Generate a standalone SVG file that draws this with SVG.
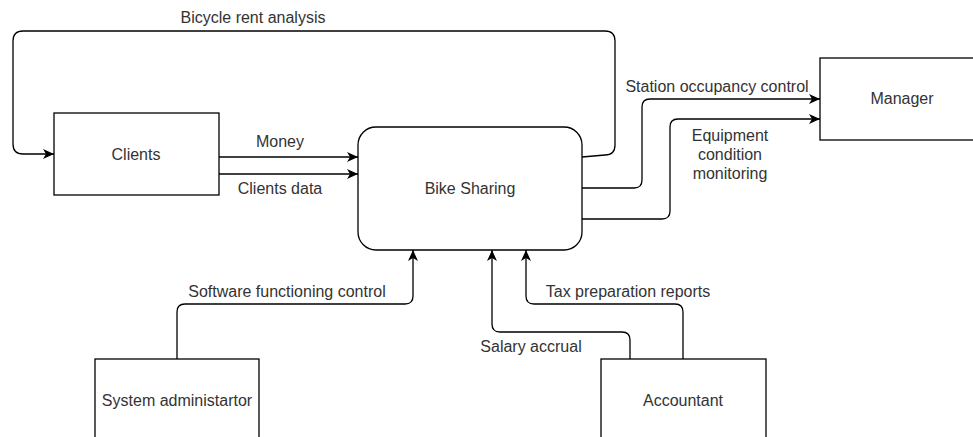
<svg xmlns="http://www.w3.org/2000/svg" width="973" height="437" viewBox="0 0 973 437">
<style>
.box{fill:#fff;stroke:#000;stroke-width:1.3}
.edge{fill:none;stroke:#000;stroke-width:1.3}
text{font-family:"Liberation Sans",Arial,Helvetica,sans-serif;font-size:16px;fill:#333;text-anchor:middle}
</style>
<defs>
<marker id="arr" markerUnits="userSpaceOnUse" markerWidth="12" markerHeight="10" refX="11" refY="5" orient="auto">
<path d="M0,0 L11,5 L0,10 L3,5 Z" fill="#000"/>
</marker>
</defs>
<rect width="973" height="437" fill="#fff"/>
<g id="connectors">
<path class="edge" marker-end="url(#arr)" d="M582,157 L605,155 Q615,155 615,145 L615,41 Q615,31 605,31 L23,31 Q13,31 13,41 L13,144 Q13,154 23,154 L54,154"/>
<path class="edge" marker-end="url(#arr)" d="M219,157 L358,157"/>
<path class="edge" marker-end="url(#arr)" d="M219,174 L358,174"/>
<path class="edge" marker-end="url(#arr)" d="M582,188 L634,188 Q642,188 642,180 L642,107 Q642,99 650,99 L820,99"/>
<path class="edge" marker-end="url(#arr)" d="M582,219 L662,219 Q670,219 670,211 L670,127 Q670,119 678,119 L820,119"/>
<path class="edge" marker-end="url(#arr)" d="M177,359 L177,312 Q177,304 185,304 L405,304 Q413,304 413,296 L413,250"/>
<path class="edge" marker-end="url(#arr)" d="M630,359 L630,340 Q630,332 622,332 L500,332 Q492,332 492,324 L492,250"/>
<path class="edge" marker-end="url(#arr)" d="M683,359 L683,312 Q683,304 675,304 L534,304 Q526,304 526,296 L526,250"/>
<text x="253" y="23">Bicycle rent analysis</text>
<text x="280" y="147">Money</text>
<text x="280" y="194">Clients data</text>
<text x="717" y="92">Station occupancy control</text>
<text x="730" y="141">Equipment</text>
<text x="730" y="160">condition</text>
<text x="730" y="179">monitoring</text>
<text x="287" y="297">Software functioning control</text>
<text x="531" y="352">Salary accrual</text>
<text x="628" y="297">Tax preparation reports</text>
</g>
<g id="clients">
<rect class="box" x="54" y="113" width="165" height="82"/>
<text x="136" y="160">Clients</text>
</g>
<g id="bike-sharing">
<rect class="box" x="358" y="127" width="224" height="123" rx="18" ry="18"/>
<text x="470" y="194">Bike Sharing</text>
</g>
<g id="manager">
<rect class="box" x="820" y="58" width="165" height="82"/>
<text x="902" y="104">Manager</text>
</g>
<g id="system-administrator">
<rect class="box" x="95" y="359" width="164" height="82"/>
<text x="177" y="406">System administartor</text>
</g>
<g id="accountant">
<rect class="box" x="601" y="359" width="165" height="82"/>
<text x="683" y="406">Accountant</text>
</g>
</svg>
